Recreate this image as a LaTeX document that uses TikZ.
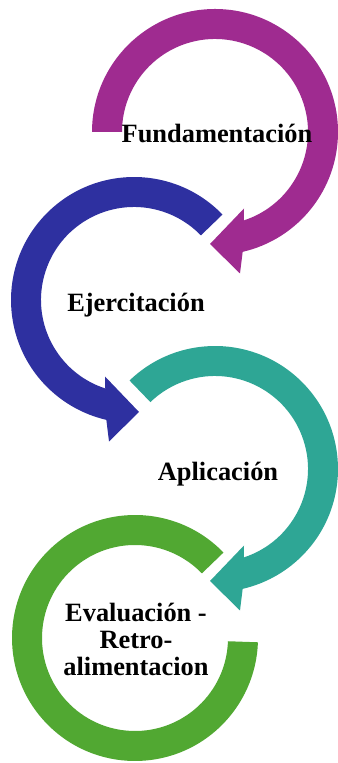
\documentclass[tikz,border=0pt]{standalone}
\usepackage{fontspec}
\setmainfont{Liberation Serif}

\definecolor{fundcol}{HTML}{9F2B90}
\definecolor{ejercol}{HTML}{2E30A0}
\definecolor{aplicol}{HTML}{2EA695}
\definecolor{evalcol}{HTML}{51A832}

\tikzset{
	ringarrow/.pic={
		\fill[pic actions] (#1:123) arc[start angle=#1, end angle=-77, radius=123]
			-- (25,-141.5) -- (-5,-112) -- (29,-76.5)
			-- (-72:93) arc[start angle=-72, end angle=#1, radius=93] -- cycle;
	},
	steptext/.style={font=\fontsize{19.8}{20.6}\selectfont\bfseries, inner sep=0pt, align=center}
}

\begin{document}
\begin{tikzpicture}[x=0.75pt, y=0.75pt]
		\useasboundingbox (0,0) rectangle (338,763);

		\pic[fill=fundcol] at (215,631) {ringarrow=180};
		\pic[fill=ejercol, xscale=-1] at (134,463) {ringarrow=136};
		\pic[fill=aplicol] at (215,294) {ringarrow=134};
		\fill[evalcol] (135,125) ++(44:123) arc[start angle=44, end angle=358, radius=123]
			-- ++(178:30) arc[start angle=358, end angle=44, radius=93] -- cycle;

		\node[steptext, anchor=base] (fund) at (217,620) {Fundamentación};
		\node[steptext, anchor=base] (ejer) at (136,451) {Ejercitación};
		\node[steptext, anchor=base] (apli) at (218,282) {Aplicación};
		\node[steptext, anchor=base] (eval) at (136,87) {Evaluación -\\Retro-\\alimentacion};

	\end{tikzpicture}
\end{document}
